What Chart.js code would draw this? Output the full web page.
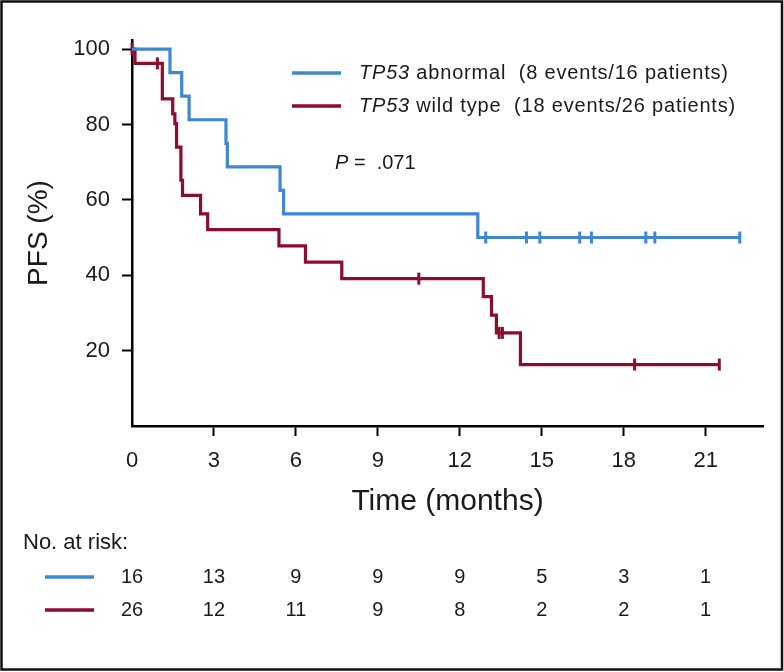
<!DOCTYPE html>
<html>
<head>
<meta charset="utf-8">
<title>PFS by TP53 status</title>
<script src="https://cdn.jsdelivr.net/npm/chart.js@4.4.1/dist/chart.umd.min.js"></script>
<style>
    html, body { margin: 0; padding: 0; background: #fff; }
    #wrap { width: 784px; height: 672px; }
</style>
</head>
<body>
<div id="wrap"><canvas id="kmChart" width="784" height="672"></canvas></div>
<script>
// Kaplan-Meier steps (months, PFS %)
const abnTimes = [0, 1.39, 1.82, 2.09, 3.44, 3.49, 5.42, 5.55, 12.66, 22.3];
const abnSurv = [100, 93.75, 87.5, 81.25, 75, 68.75, 62.5, 56.25, 50, 50];
const abnCensor = [12.95, 14.44, 14.93, 16.39, 16.82, 18.81, 19.14, 22.25];

const wtTimes = [0, 0.11, 1.11, 1.49, 1.57, 1.63, 1.79, 1.85, 2.51, 2.77, 5.38, 6.35, 7.68, 12.86, 13.16, 13.34, 14.22, 21.5];
const wtSurv = [100, 96.2, 86.8, 82.8, 80.2, 74.0, 65.2, 61.2, 56.3, 52.1, 47.8, 43.5, 39.1, 34.3, 29.4, 24.7, 16.3, 16.3];
const wtCensor = [0, 0.93, 10.5, 13.44, 13.56, 18.4, 21.5];

// Number at risk table
const riskTimes = [0, 3, 6, 9, 12, 15, 18, 21];
const riskAbn = [16, 13, 9, 9, 9, 5, 3, 1];
const riskWt = [26, 12, 11, 9, 8, 2, 2, 1];

const xTicks = [0, 3, 6, 9, 12, 15, 18, 21];
const yTicks = [20, 40, 60, 80, 100];

const BLUE = '#3d87d3';
const RED = '#8b0c2d';
const FONT = '"Liberation Sans", Arial, sans-serif';

function toPoints(times, values) {
    return times.map((t, i) => ({ x: t, y: values[i] }));
}

// y of the step curve at a censor time
function survAt(times, values, t) {
    let s = values[0];
    for (let i = 0; i < times.length; i++) {
        if (times[i] <= t) s = values[i];
    }
    return s;
}

function censorPoints(censor, times, values) {
    return censor.map(t => ({ x: t, y: survAt(times, values, t) }));
}

// texts drawn around the plot: legend, P value, titles, risk table, frame
const annotations = {
    id: 'annotations',
    beforeDraw(chart) {
        const ctx = chart.ctx;
        ctx.save();
        ctx.fillStyle = '#fff';
        ctx.fillRect(0, 0, chart.width, chart.height);
        ctx.restore();
    },
    afterDraw(chart) {
        const ctx = chart.ctx;
        const x = chart.scales.x;
        const area = chart.chartArea;
        ctx.save();
        ctx.fillStyle = '#1a1a1a';
        ctx.textBaseline = 'middle';

        // legend
        const rows = [
            { color: BLUE, rest: ' abnormal  (8 events/16 patients)', y: 73 },
            { color: RED, rest: ' wild type  (18 events/26 patients)', y: 106 }
        ];
        ctx.letterSpacing = '0.8px';
        rows.forEach(r => {
            ctx.strokeStyle = r.color;
            ctx.lineWidth = 3.5;
            ctx.beginPath();
            ctx.moveTo(292, r.y);
            ctx.lineTo(341, r.y);
            ctx.stroke();
            ctx.textAlign = 'left';
            ctx.font = 'italic 20px ' + FONT;
            ctx.fillText('TP53', 359, r.y);
            const w = ctx.measureText('TP53').width;
            ctx.font = '20px ' + FONT;
            ctx.fillText(r.rest, 359 + w, r.y);
        });
        ctx.letterSpacing = '0px';

        // P value
        ctx.font = 'italic 20px ' + FONT;
        ctx.fillText('P', 335, 163);
        const pw = ctx.measureText('P').width;
        ctx.font = '20px ' + FONT;
        ctx.fillText(' =  .071', 335 + pw, 163);

        // axis titles
        ctx.textAlign = 'center';
        ctx.font = '30px ' + FONT;
        ctx.fillText('Time (months)', (area.left + area.right) / 2, 502);
        ctx.save();
        ctx.translate(39, (area.top + area.bottom) / 2);
        ctx.rotate(-Math.PI / 2);
        ctx.font = '28px ' + FONT;
        ctx.fillText('PFS (%)', 0, 0);
        ctx.restore();

        // number at risk
        ctx.textAlign = 'left';
        ctx.font = '22px ' + FONT;
        ctx.fillText('No. at risk:', 23, 543);
        const riskRows = [
            { color: BLUE, values: riskAbn, y: 577 },
            { color: RED, values: riskWt, y: 610 }
        ];
        riskRows.forEach(r => {
            ctx.strokeStyle = r.color;
            ctx.lineWidth = 3.5;
            ctx.beginPath();
            ctx.moveTo(45, r.y);
            ctx.lineTo(94, r.y);
            ctx.stroke();
            ctx.textAlign = 'center';
            ctx.font = '20px ' + FONT;
            r.values.forEach((v, i) => {
                ctx.fillText(String(v), x.getPixelForValue(riskTimes[i]), r.y);
            });
        });

        // frame
        ctx.strokeStyle = '#111';
        ctx.lineWidth = 2.5;
        ctx.strokeRect(1.5, 1.5, 780.5, 668);
        ctx.restore();
    }
};

function initChart() {
    const ctx = document.getElementById('kmChart').getContext('2d');

    const tickColor = c => (c.tick && c.tick.value === 0) ? 'rgba(0,0,0,0)' : '#000';

    new Chart(ctx, {
        type: 'scatter',
        data: {
            datasets: [
                {
                    label: 'TP53 abnormal',
                    data: toPoints(abnTimes, abnSurv),
                    showLine: true,
                    stepped: 'before',
                    borderColor: BLUE,
                    borderWidth: 3.2,
                    pointRadius: 0,
                    borderJoinStyle: 'miter',
                    clip: 8
                },
                {
                    label: 'TP53 wild type',
                    data: toPoints(wtTimes, wtSurv),
                    showLine: true,
                    stepped: 'before',
                    borderColor: RED,
                    borderWidth: 3.2,
                    pointRadius: 0,
                    borderJoinStyle: 'miter',
                    clip: 8
                },
                {
                    label: 'censored abnormal',
                    data: censorPoints(abnCensor, abnTimes, abnSurv),
                    pointStyle: 'line',
                    rotation: 90,
                    radius: 6,
                    borderColor: BLUE,
                    borderWidth: 3,
                    clip: 8
                },
                {
                    label: 'censored wild type',
                    data: censorPoints(wtCensor, wtTimes, wtSurv),
                    pointStyle: 'line',
                    rotation: 90,
                    radius: 6,
                    borderColor: RED,
                    borderWidth: 3,
                    clip: 8
                }
            ]
        },
        options: {
            responsive: false,
            animation: false,
            devicePixelRatio: 1,
            layout: {
                padding: { top: 40, right: 21, left: 0, bottom: 0 }
            },
            plugins: {
                legend: { display: false },
                tooltip: { enabled: false }
            },
            scales: {
                x: {
                    type: 'linear',
                    min: 0,
                    max: 23.1,
                    afterFit: s => { s.height = 246; },
                    afterBuildTicks: s => { s.ticks = xTicks.map(v => ({ value: v })); },
                    border: { display: true, color: '#000', width: 2.5 },
                    grid: {
                        drawOnChartArea: false,
                        drawTicks: true,
                        tickLength: 10,
                        tickWidth: 2,
                        tickColor: tickColor
                    },
                    ticks: {
                        autoSkip: false,
                        maxRotation: 0,
                        padding: 12,
                        color: '#1a1a1a',
                        font: { family: FONT, size: 22 }
                    }
                },
                y: {
                    type: 'linear',
                    min: 0,
                    max: 102.4,
                    afterFit: s => { s.width = 132; },
                    afterBuildTicks: s => { s.ticks = yTicks.map(v => ({ value: v })); },
                    border: { display: true, color: '#000', width: 2.5 },
                    grid: {
                        drawOnChartArea: false,
                        drawTicks: true,
                        tickLength: 10,
                        tickWidth: 2,
                        tickColor: tickColor
                    },
                    ticks: {
                        padding: 12,
                        color: '#1a1a1a',
                        font: { family: FONT, size: 22 }
                    }
                }
            }
        },
        plugins: [annotations]
    });
}

document.addEventListener('DOMContentLoaded', initChart);
</script>
</body>
</html>
